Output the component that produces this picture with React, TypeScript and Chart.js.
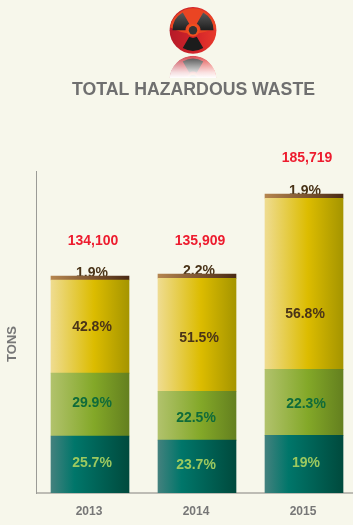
import React, { useEffect, useRef } from "react";
import { Chart, registerables } from "chart.js";

Chart.register(...registerables);

const years = ["2013", "2014", "2015"];
const totals = ["134,100", "135,909", "185,719"];
const teal = [35400, 32800, 35800];
const green = [39100, 30400, 41000];
const yellow = [57800, 70200, 106300];
const brown = [2500, 2500, 2600];
const tealPct = ["25.7%", "23.7%", "19%"];
const greenPct = ["29.9%", "22.5%", "22.3%"];
const yellowPct = ["42.8%", "51.5%", "56.8%"];
const brownPct = ["1.9%", "2.2%", "1.9%"];

const BG = "#f7f7eb";
const FONT = '"Liberation Sans", Arial, sans-serif';
const BAR_W = 78;

type Stop = [number, string];
const tealStops: Stop[] = [[0, "#43817e"], [0.3, "#00766a"], [1, "#004a3d"]];
const greenStops: Stop[] = [[0, "#b1c26c"], [0.55, "#83a828"], [1, "#64801f"]];
const yellowStops: Stop[] = [[0, "#efdc90"], [0.55, "#dcbc00"], [1, "#a59500"]];
const brownStops: Stop[] = [[0, "#b5854f"], [1, "#4a2a14"]];

// per-label nudges from the segment centre, in canvas pixels
const nudgeTeal = [[2, -1], [-1, -1], [2, -1]];
const nudgeGreen = [[2, -1], [-1, 2], [2, 2]];
const nudgeYellow = [[2, 1], [2, 3], [1, 30]];
const nudgeBrown = [[2, -3], [2, -3], [1, -3]];
const nudgeTotal = [[3, -35], [3, -33], [3, -36]];

const fillFor = (stops: Stop[]) => (ctx: any) => {
  const chart = ctx.chart;
  const sx = chart.scales?.x;
  if (!sx || ctx.dataIndex === undefined) return stops[0][1];
  const cx = sx.getPixelForValue(ctx.dataIndex);
  if (!isFinite(cx)) return stops[0][1];
  const g = chart.ctx.createLinearGradient(cx - BAR_W / 2, 0, cx + BAR_W / 2, 0);
  stops.forEach(([o, c]) => g.addColorStop(o, c));
  return g;
};

const labelsPlugin = {
  id: "segmentLabels",
  beforeDatasetsDraw(chart: any) {
    const { ctx } = chart;
    ctx.save();
    ctx.textAlign = "center";
    ctx.textBaseline = "middle";
    // heading and axis title
    ctx.font = `bold 17.7px ${FONT}`;
    ctx.fillStyle = "#6f6f6f";
    ctx.fillText("TOTAL HAZARDOUS WASTE", 193.5, 90);
    ctx.save();
    ctx.translate(12, 344);
    ctx.rotate(-Math.PI / 2);
    ctx.font = `bold 13px ${FONT}`;
    ctx.fillStyle = "#777777";
    ctx.fillText("TONS", 0, 0);
    ctx.restore();

    ctx.font = `bold 14px ${FONT}`;
    const meta = chart.getDatasetMeta(3);
    meta.data.forEach((el: any, i: number) => {
      ctx.fillStyle = "#4a3418";
      ctx.fillText(brownPct[i], el.x + nudgeBrown[i][0], el.y + nudgeBrown[i][1]);
      ctx.fillStyle = "#ed1c2e";
      ctx.fillText(totals[i], el.x + nudgeTotal[i][0], el.y + nudgeTotal[i][1]);
    });
    ctx.restore();
  },
  afterDatasetsDraw(chart: any) {
    const { ctx } = chart;
    ctx.save();
    ctx.textAlign = "center";
    ctx.textBaseline = "middle";
    ctx.font = `bold 14px ${FONT}`;
    const groups: [number, string[], number[][], string][] = [
      [0, tealPct, nudgeTeal, "#9cc95f"],
      [1, greenPct, nudgeGreen, "#0f6b3a"],
      [2, yellowPct, nudgeYellow, "#4a3418"],
    ];
    groups.forEach(([d, texts, nudges, color]) => {
      chart.getDatasetMeta(d).data.forEach((el: any, i: number) => {
        ctx.fillStyle = color;
        ctx.fillText(texts[i], el.x + nudges[i][0], (el.y + el.base) / 2 + nudges[i][1]);
      });
    });
    ctx.restore();
  },
};

const blade = (a: number, r0: number, r1: number) => {
  const p = (r: number, d: number) => {
    const t = (d * Math.PI) / 180;
    return `${(r * Math.cos(t)).toFixed(2)} ${(r * Math.sin(t)).toFixed(2)}`;
  };
  return `M${p(r0, a - 30)} L${p(r1, a - 30)} A${r1} ${r1} 0 0 1 ${p(r1, a + 30)} L${p(r0, a + 30)} A${r0} ${r0} 0 0 0 ${p(r0, a - 30)}Z`;
};

function Emblem() {
  const mark = (
    <>
      <circle r="23.4" fill="url(#rimG)" />
      <path d="M-23 -3 A23.4 23.4 0 0 1 23 -3 Q0 10 -23 -3Z" fill="#ea4523" />
      <path d={blade(210, 7.5, 20.5)} fill="url(#bladeG)" />
      <path d={blade(330, 7.5, 20.5)} fill="url(#bladeG)" />
      <path d={blade(90, 7.5, 20.5)} fill="#1c1c1c" />
      <circle r="6.2" fill="#f0501e" />
      <circle r="4.2" fill="#333333" />
    </>
  );
  return (
    <svg width="60" height="78" viewBox="0 0 60 78" style={{ position: "absolute", left: 163, top: 0 }}>
      <defs>
        <linearGradient id="rimG" x1="0" y1="0" x2="1" y2="0">
          <stop offset="0" stopColor="#b51a28" />
          <stop offset="0.55" stopColor="#d3242a" />
          <stop offset="1" stopColor="#e8392b" />
        </linearGradient>
        <linearGradient id="bladeG" x1="0" y1="0" x2="0" y2="1">
          <stop offset="0" stopColor="#595959" />
          <stop offset="1" stopColor="#1e1e1e" />
        </linearGradient>
        <linearGradient id="fadeG" x1="0" y1="55" x2="0" y2="78" gradientUnits="userSpaceOnUse">
          <stop offset="0" stopColor="#fff" stopOpacity="0.15" />
          <stop offset="0.75" stopColor="#fff" stopOpacity="0.85" />
          <stop offset="1" stopColor="#fff" stopOpacity="1" />
        </linearGradient>
        <clipPath id="refClip">
          <circle cx="30" cy="79.2" r="23.4" />
        </clipPath>
      </defs>
      <g transform="translate(30 30.3)">{mark}</g>
      <g clipPath="url(#refClip)">
        <g transform="translate(30 79.2) scale(1 -1)">{mark}</g>
        <rect x="0" y="55" width="60" height="23" fill="url(#fadeG)" />
      </g>
    </svg>
  );
}

export default function App() {
  const ref = useRef<HTMLCanvasElement>(null);
  useEffect(() => {
    document.body.style.margin = "0";
    document.body.style.background = BG;
    const mk = (label: string, data: number[], stops: Stop[]) => ({
      label,
      data,
      backgroundColor: fillFor(stops),
      borderWidth: 0,
      barThickness: BAR_W,
      stack: "s",
    });
    const chart = new Chart(ref.current!, {
      type: "bar",
      data: {
        labels: years,
        datasets: [
          mk("teal", teal, tealStops),
          mk("green", green, greenStops),
          mk("yellow", yellow, yellowStops),
          mk("brown", brown, brownStops),
        ],
      },
      plugins: [labelsPlugin],
      options: {
        responsive: false,
        animation: false,
        layout: { padding: { top: 171, right: 2.5, left: 0, bottom: 0 } },
        plugins: {
          legend: { display: false },
          tooltip: { enabled: false },
          title: { display: false },
        },
        scales: {
          x: {
            stacked: true,
            grid: { display: false, drawTicks: false },
            border: { color: "#bdbcb4", width: 2 },
            ticks: {
              color: "#777777",
              padding: 11,
              labelOffset: -1,
              font: { family: FONT, size: 12, weight: "bold" },
              maxRotation: 0,
            },
            afterFit: (s: any) => {
              s.height = 32;
            },
          },
          y: {
            stacked: true,
            min: 0,
            max: 200000,
            grid: { display: false, drawTicks: false },
            border: { color: "#9b9b96", width: 1 },
            ticks: { display: false },
            afterFit: (s: any) => {
              s.width = 36.5;
            },
          },
        },
      },
    } as any);
    return () => chart.destroy();
  }, []);
  return (
    <div style={{ position: "relative", width: 353, height: 525, overflow: "hidden", background: BG }}>
      <canvas ref={ref} width={360} height={525} style={{ display: "block", width: 360, height: 525 }} />
      <Emblem />
    </div>
  );
}
